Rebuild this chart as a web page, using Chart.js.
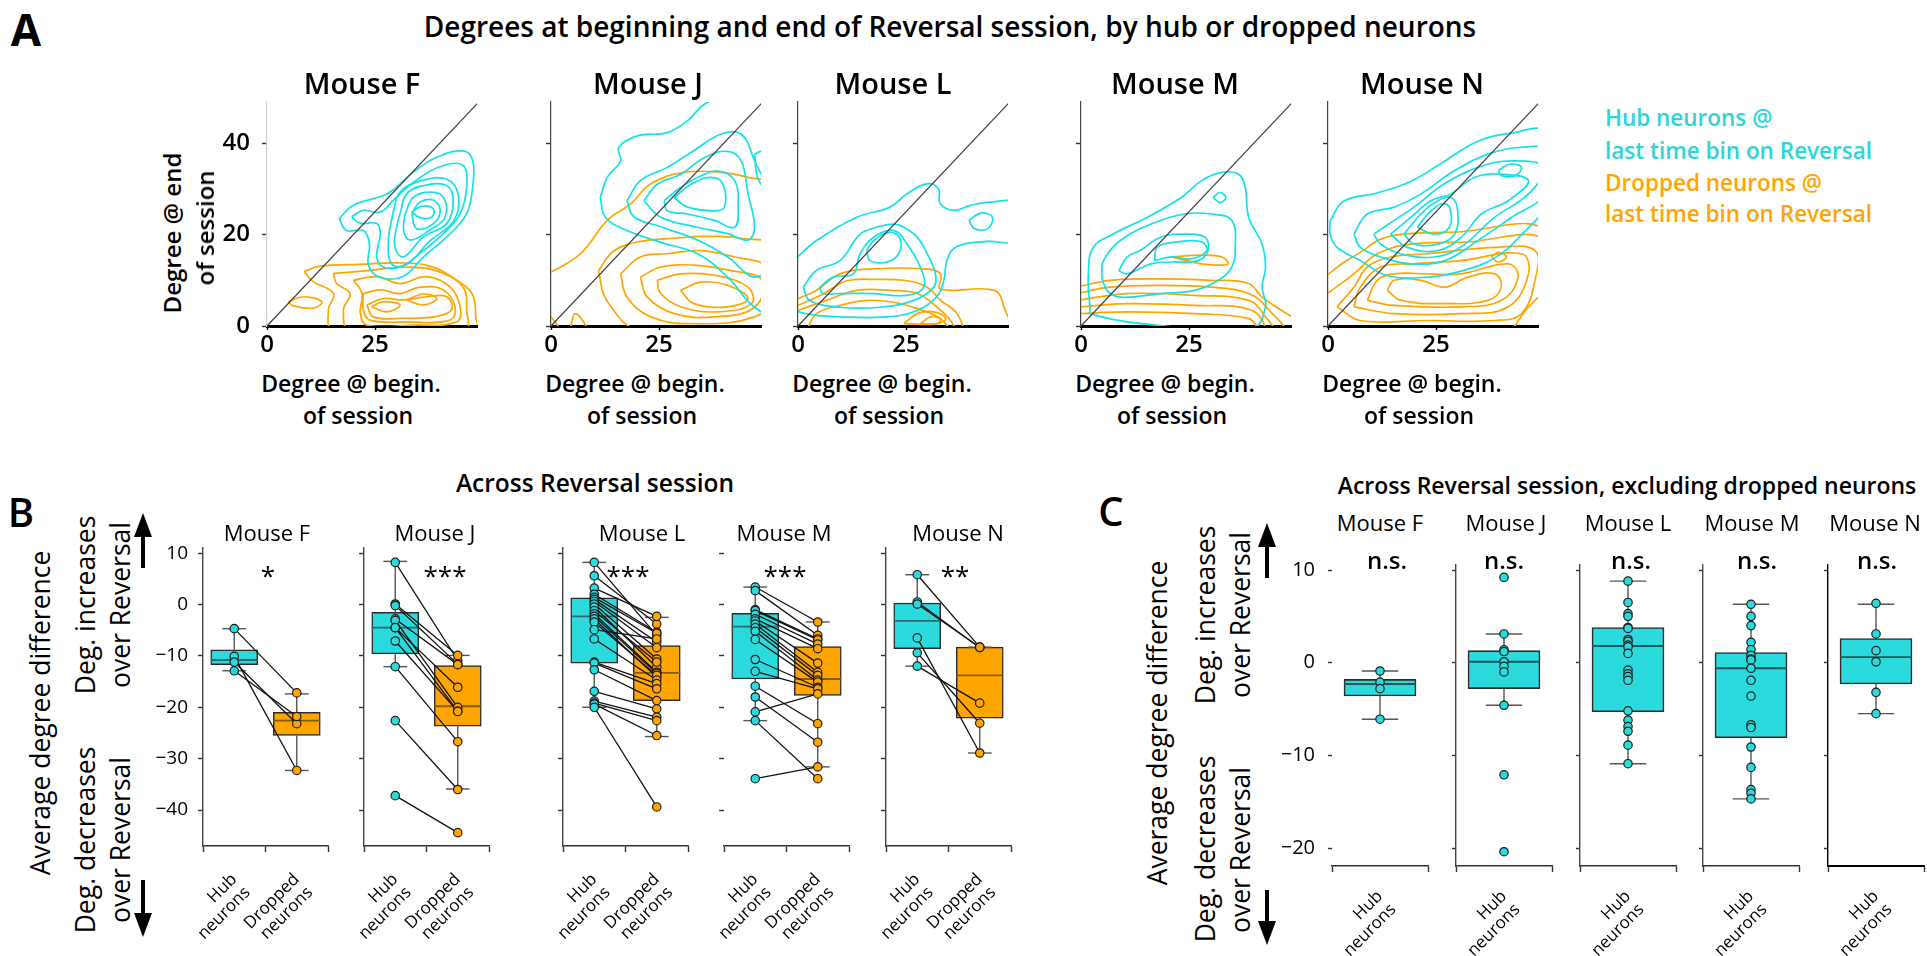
<!DOCTYPE html>
<html>
<head>
<meta charset="utf-8">
<title>Degrees of hub and dropped neurons</title>
<script src="https://cdn.jsdelivr.net/npm/chart.js@4.4.1/dist/chart.umd.min.js"></script>
<style>
  html, body { margin: 0; padding: 0; background: #fff; }
  #fig { position: relative; width: 1927px; height: 956px; overflow: hidden; font-family: "Open Sans", sans-serif; color: #000; }
  #fig canvas { position: absolute; }
  .lbl { position: absolute; white-space: nowrap; line-height: 1; }
</style>
</head>
<body>
<div id="fig"></div>
<script>
// ---------- panel A: KDE contour rings, flat [x, y, x, y, ...] per ring ----------
const hubRingsF = [
  [16.7,23.5, 20.0,26.4, 28.1,29.1, 33.9,33.7, 39.3,36.9, 45.4,38.3, 47.6,36.2, 47.6,30.4, 46.2,24.6, 42.4,20.2, 36.2,15.1, 31.6,10.9, 26.2,10.6, 23.5,13.3, 23.7,18.0, 22.3,20.9, 18.4,20.9],
  [19.6,23.9, 22.3,25.3, 26.2,24.9, 29.2,27.5, 34.6,31.9, 40.8,35.1, 45.4,35.1, 46.2,30.4, 44.7,24.6, 40.8,20.2, 35.4,15.9, 30.8,12.9, 26.9,12.9, 25.4,15.1, 26.2,20.2, 25.4,22.4, 21.5,22.5],
  [29.2,24.9, 30.7,29.2, 35.4,31.7, 41.6,32.1, 44.3,28.5, 43.2,23.0, 37.7,18.6, 32.4,13.5, 28.9,13.5, 28.1,18.6],
  [30.8,24.6, 32.3,28.9, 36.2,30.7, 41.6,30.7, 43.1,27.5, 41.6,22.4, 36.2,19.5, 31.6,15.1, 29.6,17.3, 30.0,21.7],
  [32.0,24.6, 33.9,28.2, 37.7,29.3, 40.8,28.2, 41.2,23.8, 37.7,21.0, 33.1,18.8, 31.6,21.0],
  [33.5,24.6, 35.4,27.1, 38.5,27.5, 40.1,25.3, 38.5,22.4, 34.6,21.3],
  [33.5,24.9, 35.8,26.2, 38.5,25.6, 38.1,23.8, 35.4,23.7]
];
const dropRingsF = [
  [8.6,11.9, 12.3,13.1, 21.5,13.5, 30.8,13.8, 37.7,13.1, 43.9,10.0, 47.6,6.8, 48.3,2.0, 48.3,-1, 15.4,-1, 14.2,3.5, 15.4,7.1, 10.7,9.7],
  [4.9,5.3, 8.4,6.4, 12.7,5.3, 10.7,3.9, 6.1,4.4],
  [15.4,11.5, 23.1,12.1, 33.1,12.9, 40.0,11.8, 45.4,8.5, 46.2,3.5, 45.8,-1, 19.2,-1, 17.7,3.5, 19.2,7.1, 16.1,9.3],
  [20.0,10.0, 25.4,10.8, 30.8,9.3, 36.9,10.8, 42.4,8.5, 44.7,4.2, 43.9,0.9, 33.9,0.2, 23.1,0.2, 21.6,2.8, 22.0,7.1],
  [22.3,7.1, 26.2,7.9, 30.8,7.1, 35.4,8.5, 40.8,7.9, 43.5,4.2, 42.4,1.3, 33.1,0.9, 23.8,1.3, 22.3,3.5],
  [23.1,4.6, 26.9,6.0, 31.6,5.7, 36.9,6.4, 41.6,6.4, 42.7,3.5, 38.5,2.0, 31.6,1.7, 24.6,2.0],
  [24.2,4.2, 26.9,5.3, 30.8,4.6, 27.7,3.1],
  [32.3,5.7, 36.2,7.0, 39.3,6.0, 36.2,4.6]
];
const hubRingsJ = [
  [11.4,28.1, 13.0,32.5, 16.1,36.1, 15.7,39.1, 20.0,41.6, 26.9,42.3, 31.6,44.9, 35.5,48.5, 40.9,50.5, 52,50.5, 52,2.7, 47.1,4.1, 40.9,10.7, 33.9,15.8, 25.4,18.3, 17.6,20.9, 12.6,23.8],
  [17.6,27.4, 20.7,31.8, 26.9,34.7, 33.1,38.4, 39.4,42.0, 44.0,42.0, 47.1,36.2, 50.2,28.9, 51.0,14.3, 47.1,10.7, 40.9,15.1, 33.9,18.8, 25.4,21.7, 19.2,23.9],
  [21.5,27.4, 24.6,31.0, 30.0,33.2, 35.5,36.8, 40.9,38.2, 44.0,36.1, 45.6,28.9, 47.1,21.6, 45.6,18.8, 40.9,20.2, 33.9,21.6, 25.4,23.8],
  [26.2,27.4, 30.0,30.3, 33.9,32.5, 38.6,33.9, 42.5,31.8, 43.3,26.0, 42.5,21.6, 37.8,23.1, 31.6,24.5, 26.9,25.2],
  [28.5,28.1, 32.4,31.0, 37.0,32.5, 39.8,31.0, 40.1,25.9, 37.8,25.2, 31.6,26.0],
  [47.1,37.6, 51.8,39.1, 51.8,29.0, 48.1,31.8]
];
const dropRingsJ = [
  [-2,10.7, 6.8,15.8, 13.0,23.1, 18.4,26.7, 23.1,31.1, 30.8,33.6, 39.4,33.6, 45.6,32.5, 52,30.3, 52,-1, -2,-1],
  [11.0,12.1, 14.5,16.4, 20.7,18.5, 28.5,19.2, 36.3,19.6, 44.0,19.2, 52,17.0, 52,-1, 20.7,-1, 12.9,5.6],
  [16.1,11.4, 20.7,15.1, 26.9,15.8, 34.7,16.5, 42.5,15.1, 50.2,12.9, 51.8,7.1, 47.1,2.0, 32.4,0.5, 23.1,2.0, 17.6,6.3],
  [20.7,10.7, 25.4,12.9, 33.1,13.3, 41.7,12.1, 48.9,10.0, 47.1,4.1, 37.8,2.0, 28.5,2.7, 22.3,6.3],
  [24.6,10.0, 30.0,11.4, 37.8,11.1, 45.6,8.5, 46.4,4.9, 38.6,3.1, 30.0,4.2, 25.4,7.1],
  [30.0,7.8, 34.7,9.6, 40.9,8.9, 45.6,6.0, 40.9,4.2, 33.1,4.9],
  [4.4,-1, 5.6,2.7, 8.3,-1],
  [-2,4.2, 2.0,-1, -2,-1]
];
const hubRingsL = [
  [-1,14.3, 4.3,18.7, 13.6,23.8, 21.3,26.0, 25.2,28.9, 29.8,31.1, 32.5,30.0, 32.9,26.8, 36.0,25.3, 39.9,26.4, 44.5,27.1, 50,26.8, 50,18.8, 43.8,18.5, 36.8,17.4, 34.5,14.5, 33.8,10.2, 32.2,6.5, 27.6,3.4, 20.6,2.0, 9.7,2.0, 1.9,2.7, -1,4.2],
  [39.6,23.1, 42.3,24.7, 45.0,23.8, 43.9,21.3, 40.8,21.3],
  [1.2,8.5, 4.3,12.2, 9.7,14.3, 14.4,20.1, 18.2,21.6, 22.1,22.3, 24.5,21.6, 27.6,19.4, 29.9,15.8, 31.8,11.4, 31.4,8.5, 26.8,5.6, 19.0,4.1, 9.7,4.1, 2.7,5.6],
  [5.0,8.5, 8.2,10.7, 12.8,11.4, 14.4,15.8, 17.5,19.4, 22.1,20.9, 25.2,18.0, 28.3,12.9, 29.1,8.5, 25.2,6.7, 17.5,7.1, 9.7,7.1, 5.8,7.1],
  [15.9,16.5, 17.5,18.7, 21.3,20.5, 23.6,19.1, 23.3,15.8, 20.6,14.0, 16.7,14.3]
];
const dropRingsL = [
  [-1,5.6, 4.3,7.8, 9.7,11.4, 17.5,12.5, 29.1,12.5, 33.0,11.4, 33.0,8.1, 45.4,7.8, 47.7,4.1, 48.5,-1, -1,-1],
  [-1,4.1, 5.8,7.0, 11.3,9.9, 17.5,10.2, 25.2,9.9, 29.9,8.5, 33.0,5.6, 36.8,2.7, 37.5,-1, -1,-1],
  [-1,3.1, 6.6,5.6, 13.6,7.8, 21.3,7.8, 27.6,7.1, 32.2,4.1, 35.3,1.2, 36,-1, -1,-1],
  [2,-1, 4.3,2.7, 9.7,4.5, 15.9,5.6, 22.1,5.2, 27.6,3.8, 33.0,1.6, 34.5,-1],
  [24.5,0.5, 27.6,2.7, 31.4,3.1, 34.2,1.6, 32.2,0.5],
  [28.3,0.5, 30.7,2.0, 33.0,1.6, 32.2,0.5]
];
const hubRingsM = [
  [2.1,3.4, 1.7,11.4, 2.9,17.3, 7.6,20.2, 15.4,23.8, 23.2,28.1, 27.9,31.8, 32.6,33.6, 36.5,33.2, 38.0,30.3, 38.8,23.8, 41.9,17.9, 42.7,12.8, 41.9,8.5, 42.7,4.2, 39.6,-1, 31.8,-1, 10.7,0.9, 2.1,2.7],
  [30.6,28.1, 32.2,29.2, 33.5,28.1, 32.2,27.0],
  [4.8,10.7, 5.2,14.3, 9.1,18.7, 16.2,22.3, 24.0,24.5, 30.2,24.5, 34.9,23.1, 35.7,17.2, 34.9,12.9, 31.8,10.0, 26.3,7.8, 18.5,7.1, 9.1,6.3, 6.0,7.8],
  [8.75,12.1, 10.7,15.1, 13.7,16.5, 18.4,19.4, 23.9,20.1, 28.7,19.4, 29.4,16.5, 27.1,14.3, 20.9,14.0, 16.2,13.6, 10.7,11.4],
  [17.0,14.3, 17.7,17.3, 22.4,18.4, 27.9,18.4, 29.1,16.5, 25.5,14.7, 20.9,15.1]
];
const dropRingsM = [
  [-1,8.5, 6.8,10.0, 18.5,10.3, 30.2,10.0, 38.8,9.3, 41.9,6.3, 45.1,4.2, 50,1.0, 50,-1, -1,-1],
  [-1,7.1, 6.8,8.5, 18.5,8.9, 30.2,8.5, 38.8,7.1, 43.6,3.4, 46.6,-1, -1,-1],
  [-1,5.6, 10.7,7.1, 26.3,6.7, 38.8,5.6, 42.7,2.0, 44.3,-1, -1,-1],
  [-1,4.1, 10.7,4.9, 26.3,4.5, 39.6,3.4, 41.9,-1, -1,-1],
  [-1,2.7, 10.7,3.1, 26.3,2.7, 38.8,1.6, 40.4,-1, -1,-1],
  [20.9,15.1, 27.9,15.5, 32.6,15.1, 34.1,13.6, 32.6,13.3, 27.9,13.6]
];
const hubRingsN = [
  [0.5,23.0, 3.6,27.3, 11.4,29.1, 19.1,31.6, 26.9,36.0, 34.7,40.4, 42.4,42.2, 50,42.4, 50,26.5, 44.8,20.0, 38.6,14.9, 30.8,12.0, 23.1,10.7, 13.8,11.0, 7.5,14.3, 2.1,17.2, 0.5,20.1],
  [6.0,20.1, 9.1,24.5, 15.3,26.0, 21.5,28.9, 29.3,34.0, 37.0,37.6, 44.8,39.1, 50,38.4, 50,28.9, 42.5,23.8, 34.7,18.7, 27.0,14.3, 19.2,13.6, 12.2,15.1, 7.5,17.2],
  [10.6,20.1, 15.3,23.1, 19.9,26.0, 26.9,31.1, 34.7,34.7, 42.5,36.1, 50,34.7, 46.4,28.9, 38.6,23.8, 30.8,17.3, 24.6,15.1, 16.8,15.8, 12.2,17.9],
  [14.5,20.1, 19.2,23.8, 23.8,27.4, 28.5,28.9, 33.9,32.5, 40.1,33.2, 46.4,31.8, 41.7,27.4, 35.5,24.5, 30.8,19.4, 25.4,16.5, 18.4,17.2],
  [17.6,20.1, 21.5,24.5, 25.4,27.4, 28.5,28.1, 30.0,25.3, 29.3,20.1, 25.4,17.9, 20.0,17.9],
  [20.7,21.6, 23.1,24.5, 26.2,26.7, 28.1,26.0, 28.1,21.6, 24.6,20.1],
  [39.4,34.0, 42.1,35.4, 44.8,34.7, 43.3,32.9, 40.1,32.9]
];
const dropRingsN = [
  [-1,10.5, 3.6,13.9, 7.5,16.1, 12.2,19.0, 17.6,20.1, 28.5,20.5, 51,20.5, 51,-1, -1,-1],
  [-1,6.5, 6.0,11.4, 11.4,15.8, 19.2,17.9, 30.8,18.3, 51,18.3, 51,-1, -1,-1],
  [2.1,4.2, 6.0,8.5, 9.1,12.9, 14.5,15.1, 23.1,15.8, 38.6,17.2, 47.9,16.5, 47.9,10.0, 44.8,2.7, 38.6,1.2, 23.1,1.2, 7.5,1.2],
  [6.0,4.2, 7.5,8.5, 12.2,12.9, 19.9,13.6, 30.8,14.3, 44.8,15.8, 46.4,11.4, 41.7,4.2, 30.8,2.7, 15.3,2.7],
  [9.1,5.6, 11.4,10.0, 15.3,11.4, 23.1,11.4, 30.8,11.4, 41.7,13.6, 44.0,10.7, 40.1,5.6, 30.8,4.2, 15.3,4.5],
  [13.7,7.8, 15.3,10.0, 21.5,10.0, 27.0,8.5, 32.4,10.7, 38.6,11.4, 40.1,8.5, 37.0,5.6, 27.0,4.9, 16.9,5.6],
  [37.8,15.1, 39.4,16.1, 41.3,15.1, 39.4,14.0],
  [42.5,-1, 46.4,4.1, 51,7.5, 55,7, 55,-3]
];

// ---------- panel B: degree difference per neuron, hub -> dropped (paired by index) ----------
const hubDiffF = [-4.7, -10.1, -11.2, -12.9];
const dropDiffF = [-17.2, -32.3, -23.2, -21.8];
const hubDiffJ = [8.2, 0.1, -0.2, -2.8, -3.1, -4.5, -4.5, -7.1, -12.1, -22.6, -37.2];
const dropDiffJ = [-10.9, -9.9, -11.6, -11.7, -20.0, -16.1, -20.8, -20.8, -26.7, -36.0, -44.4];
const hubDiffL = [8.2, 5.6, 3.2, 2.0, 1.4, 1.0, 0.6, 0.1, -0.5, -1.2, -1.8, -2.3, -2.8, -3.4, -4.9, -6.7, -11.2, -11.4, -12.7, -16.9, -18.8, -19.2, -19.4, -20.0];
const dropDiffL = [-6.0, -3.8, -2.3, -5.4, -5.6, -7.3, -8.4, -10.6, -12.2, -11.2, -13.2, -13.4, -14.1, -13.8, -6.7, -14.7, -15.4, -16.4, -18.7, -20.3, -21.9, -22.6, -25.5, -39.4];
const hubDiffM = [3.4, 2.7, -1.0, -1.2, -1.9, -2.8, -3.2, -3.8, -4.5, -5.2, -6.8, -10.7, -13.0, -15.9, -18.0, -20.9, -22.6, -33.9];
const dropDiffM = [-3.4, -6.0, -6.7, -6.9, -7.7, -8.6, -11.4, -13.2, -13.8, -14.7, -15.1, -16.1, -16.4, -23.2, -26.8, -17.4, -33.9, -31.6];
const hubDiffN = [5.8, 0.5, 0.1, -6.5, -9.4, -12.0];
const dropDiffN = [-8.3, -8.4, -8.3, -28.9, -23.1, -19.2];

// box stats: [lower whisker, q1, median, q3, upper whisker]
const hubBoxF = [-12.9, -11.7, -10.8, -8.8, -4.7];
const dropBoxF = [-32.3, -25.5, -22.6, -21.0, -17.4];
const hubBoxJ = [-12.1, -9.6, -4.5, -1.5, 8.4];
const dropBoxJ = [-35.9, -23.7, -19.8, -11.9, -9.9];
const hubBoxL = [-20.0, -11.4, -2.3, 1.3, 8.2];
const dropBoxL = [-25.7, -18.7, -13.3, -8.0, -2.5];
const hubBoxM = [-22.6, -14.5, -4.3, -1.7, 3.4];
const dropBoxM = [-31.6, -17.7, -14.5, -8.2, -3.4];
const hubBoxN = [-12.0, -8.6, -3.2, 0.3, 5.8];
const dropBoxN = [-28.9, -22.1, -13.8, -8.3, -8.3];

// ---------- panel C: hub neurons only, excluding dropped ----------
const keptDiffF = [-0.9, -2.1, -2.8, -6.1];
const keptDiffJ = [9.2, 3.1, 1.4, 1.2, 0.1, -0.4, -1.0, -4.6, -12.1, -20.4];
const keptDiffL = [8.8, 6.5, 5.3, 5.0, 3.8, 3.7, 2.5, 2.3, 1.9, 1.7, 1.0, -0.8, -1.2, -1.5, -1.9, -5.2, -6.2, -6.9, -7.4, -8.9, -10.9];
const keptDiffM = [6.3, 5.0, 4.0, 2.2, 1.4, 0.8, 0.4, 0.3, -0.6, -1.9, -3.6, -6.7, -7.0, -9.1, -11.3, -13.7, -14.1, -14.7];
const keptDiffN = [6.4, 3.1, 1.3, 0.1, -3.2, -5.5];
const keptBoxF = [-6.1, -3.6, -2.3, -1.8, -0.9];
const keptBoxJ = [-4.6, -2.8, 0.1, 1.3, 3.1];
const keptBoxL = [-10.9, -5.3, 1.8, 3.8, 8.8];
const keptBoxM = [-14.7, -8.1, -0.6, 1.1, 6.3];
const keptBoxN = [-5.5, -2.3, 0.6, 2.6, 6.3];

const mice = ["F", "J", "L", "M", "N"];
const sigB = { F: "*", J: "***", L: "***", M: "***", N: "**" };

const rings = { F: [hubRingsF, dropRingsF], J: [hubRingsJ, dropRingsJ], L: [hubRingsL, dropRingsL], M: [hubRingsM, dropRingsM], N: [hubRingsN, dropRingsN] };
const diffs = { F: [hubDiffF, dropDiffF], J: [hubDiffJ, dropDiffJ], L: [hubDiffL, dropDiffL], M: [hubDiffM, dropDiffM], N: [hubDiffN, dropDiffN] };
const boxes = { F: [hubBoxF, dropBoxF], J: [hubBoxJ, dropBoxJ], L: [hubBoxL, dropBoxL], M: [hubBoxM, dropBoxM], N: [hubBoxN, dropBoxN] };
const kept = { F: [keptDiffF, keptBoxF], J: [keptDiffJ, keptBoxJ], L: [keptDiffL, keptBoxL], M: [keptDiffM, keptBoxM], N: [keptDiffN, keptBoxN] };

const FONT = "'Open Sans', sans-serif";
const CYAN_LINE = "#12E2E8";
const CYAN = "#2ADADC";
const ORANGE = "#FFA500";
const fig = document.getElementById("fig");
Chart.defaults.font.family = FONT;

function addCanvas(left, top, w, h) {
  const c = document.createElement("canvas");
  c.width = w; c.height = h;
  c.style.left = left + "px"; c.style.top = top + "px";
  c.style.width = w + "px"; c.style.height = h + "px";
  fig.appendChild(c);
  return c;
}

function text(str, x, y, size, opts = {}) {
  const d = document.createElement("div");
  d.className = "lbl";
  d.textContent = str;
  d.style.left = x + "px";
  d.style.top = y + "px";
  d.style.fontSize = size + "px";
  d.style.fontWeight = opts.weight || 400;
  if (opts.color) d.style.color = opts.color;
  const tx = opts.anchor === "left" ? "0" : "-50%";
  d.style.transform = "translate(" + tx + ", -50%)" + (opts.rot ? " rotate(-90deg)" : "");
  fig.appendChild(d);
}

function arrow(x, y0, y1, up) {
  const head = 24, hw = 9;
  const s = document.createElement("div");
  s.style.cssText = "position:absolute;width:4px;background:#000;left:" + (x - 2) + "px;top:" +
    (up ? y0 + head - 2 : y0) + "px;height:" + (y1 - y0 - head + 2) + "px";
  const h = document.createElement("div");
  h.style.cssText = "position:absolute;width:0;height:0;left:" + (x - hw) + "px;border-left:" + hw +
    "px solid transparent;border-right:" + hw + "px solid transparent;" +
    (up ? "top:" + y0 + "px;border-bottom:" + head + "px solid #000" : "top:" + (y1 - head) + "px;border-top:" + head + "px solid #000");
  fig.append(s, h);
}

const fmt = v => (v < 0 ? "\u2212" + (-v) : String(v));

function seg(points, color, width, order) {
  return { type: "scatter", data: points, showLine: true, borderColor: color, borderWidth: width, pointRadius: 0, order: order };
}

function ring(r) {
  const p = [];
  for (let i = 0; i < r.length; i += 2) p.push({ x: r[i], y: r[i + 1] });
  p.push({ x: r[0], y: r[1] });
  return p;
}

// fixed-size axes so every chart area lands on the same pixels as the figure
function axis(o) {
  return {
    type: "linear", min: o.min, max: o.max, offset: false,
    afterBuildTicks: s => { s.ticks = o.ticks.map(v => ({ value: v })); },
    afterFit: s => {
      if (s.isHorizontal()) s.height = o.size; else s.width = o.size;
      s.paddingTop = 0; s.paddingBottom = 0; s.paddingLeft = 0; s.paddingRight = 0;
    },
    grid: { display: true, drawOnChartArea: false, drawTicks: true, tickLength: o.tickLength, tickColor: o.tickColor || "#333", tickWidth: 1.4 },
    border: { display: o.border !== false, color: o.borderColor || "#333", width: o.borderWidth || 1.4 },
    ticks: { display: true, autoSkip: false, color: "#000", padding: o.padding, maxRotation: o.rot || 0, minRotation: o.rot || 0,
      font: { family: FONT, size: o.fontSize, weight: o.weight || "400", lineHeight: 1.1 }, callback: o.label }
  };
}

function options(xs, ys, padRight) {
  return {
    responsive: false, animation: false, events: [], devicePixelRatio: 1,
    layout: { autoPadding: false, padding: { top: 10, right: padRight, left: 0, bottom: 0 } },
    plugins: { legend: { display: false }, tooltip: { enabled: false }, title: { display: false } },
    elements: { line: { capBezierPoints: false } },
    scales: { x: xs, y: ys }
  };
}

function boxParts(stats, x, halfBox, halfCap, medColor) {
  const [lo, q1, med, q3, hi] = stats;
  const wc = "#555";
  return [
    seg([{ x: x, y: q3 }, { x: x, y: hi }], wc, 1.4, 5),
    seg([{ x: x, y: q1 }, { x: x, y: lo }], wc, 1.4, 5),
    seg([{ x: x - halfCap, y: hi }, { x: x + halfCap, y: hi }], wc, 1.4, 5),
    seg([{ x: x - halfCap, y: lo }, { x: x + halfCap, y: lo }], wc, 1.4, 5),
    seg([{ x: x - halfBox, y: med }, { x: x + halfBox, y: med }], medColor, 1.8, 4)
  ];
}

function dots(points, color) {
  return { type: "scatter", data: points, pointRadius: 4.2, pointBackgroundColor: color, pointBorderColor: "#1c1c1c", pointBorderWidth: 1.2, order: 0 };
}

// ---------- panel A ----------
const plotA = { F: 267, J: 551, L: 798, M: 1081, N: 1328 };
mice.forEach(m => {
  const left = plotA[m];
  const cv = addCanvas(left - 50, 92, 270, 274);
  const ds = [Object.assign(seg([{ x: 0, y: 0 }, { x: 60, y: 60 }], "#444", 1.3, 0), { clip: 0 })];
  rings[m][0].forEach(r => ds.push(Object.assign(seg(ring(r), CYAN_LINE, 1.7, 1), { tension: 0.4, clip: 0 })));
  rings[m][1].forEach(r => ds.push(Object.assign(seg(ring(r), ORANGE, 1.7, 2), { tension: 0.4, clip: 0 })));
  const xs = axis({ min: 0, max: 48.6, ticks: [0, 25], size: 40, tickLength: 4, padding: 2, fontSize: 24, weight: "600",
    borderColor: "#000", borderWidth: 3, tickColor: "#000", label: v => String(v) });
  const ys = axis({ min: 0, max: 49, ticks: [0, 20, 40], size: 50, tickLength: 5, padding: 12, fontSize: 24, weight: "600",
    borderColor: m === "F" ? "#cfcfcf" : "#444", borderWidth: 1.2, label: v => (m === "F" ? String(v) : "") });
  new Chart(cv, { type: "scatter", data: { datasets: ds }, options: options(xs, ys, 10) });
});

// ---------- panel B ----------
const axisB = { F: 203, J: 364, L: 563, M: 724, N: 886 };
mice.forEach(m => {
  const left = axisB[m];
  const cv = addCanvas(left - 50, 538, 183, 418);
  const [hub, drop] = diffs[m];
  const [hb, db] = boxes[m];
  const ds = [{ type: "bar", data: [{ x: 0, y: [hb[1], hb[3]] }, { x: 1, y: [db[1], db[3]] }],
    backgroundColor: [CYAN, ORANGE], borderColor: "#2b2b2b", borderWidth: 1.5, borderSkipped: false, barThickness: 47, order: 6 }];
  boxParts(hb, 0, 0.376, 0.19, "#2c6a6c").forEach(d => ds.push(d));
  boxParts(db, 1, 0.376, 0.19, "#8a5a00").forEach(d => ds.push(d));
  hub.forEach((h, k) => ds.push(seg([{ x: 0, y: h }, { x: 1, y: drop[k] }], "#111", 1.3, 2)));
  ds.push(dots(hub.map(v => ({ x: 0, y: v })), CYAN));
  ds.push(dots(drop.map(v => ({ x: 1, y: v })), ORANGE));
  const xs = axis({ min: -0.5, max: 1.5, ticks: [0, 1], size: 110, tickLength: 6, padding: 18, fontSize: 17, rot: 45,
    borderWidth: 1.5, label: v => (v === 0 ? ["Hub", "neurons"] : ["Dropped", "neurons"]) });
  const ys = axis({ min: -47, max: 11, ticks: [10, 0, -10, -20, -30, -40], size: 50, tickLength: 5, padding: 10, fontSize: 19,
    border: m !== "M", borderColor: "#444", label: v => (m === "F" ? fmt(v) : "") });
  new Chart(cv, { type: "scatter", data: { datasets: ds }, options: options(xs, ys, 8) });
});

// ---------- panel C ----------
const axisC = { F: 1332, J: 1456, L: 1580, M: 1703, N: 1828 };
mice.forEach(m => {
  const left = axisC[m];
  const cv = addCanvas(left - 50, 555, 149, 401);
  const [vals, kb] = kept[m];
  const ds = [{ type: "bar", data: [{ x: 0, y: [kb[1], kb[3]] }], backgroundColor: CYAN, borderColor: "#2b2b2b",
    borderWidth: 1.6, borderSkipped: false, barThickness: 72, order: 6 }];
  boxParts(kb, 0, 0.375, 0.19, "#1f5557").forEach(d => ds.push(d));
  ds.push(dots(vals.map(v => ({ x: 0, y: v })), CYAN));
  const xs = axis({ min: -0.5, max: 0.5, ticks: [0], size: 90, tickLength: 6, padding: 15, fontSize: 17, rot: 45,
    borderWidth: m === "N" ? 2 : 1.5, borderColor: m === "N" ? "#000" : "#333", label: () => ["Hub", "neurons"] });
  const ys = axis({ min: -21.94, max: 10.54, ticks: [10, 0, -10, -20], size: 50, tickLength: 4, padding: 13, fontSize: 20,
    border: m !== "F", borderColor: m === "N" ? "#000" : "#444", label: v => (m === "F" ? fmt(v) : "") });
  new Chart(cv, { type: "scatter", data: { datasets: ds }, options: options(xs, ys, 3) });
});

// ---------- text ----------
text("A", 26, 29, 44, { weight: 700 });
text("Degrees at beginning and end of Reversal session, by hub or dropped neurons", 950, 26, 28, { weight: 600 });
const titleA = { F: 362, J: 648, L: 893, M: 1175, N: 1422 };
mice.forEach(m => {
  text("Mouse " + m, titleA[m], 82, 29, { weight: 600 });
  const c = plotA[m] + 105 - 21;
  text("Degree @ begin.", c, 383, 23, { weight: 600 });
  text("of session", c + 7, 415, 23, { weight: 600 });
});
text("Degree @ end", 172, 233, 24, { weight: 600, rot: true });
text("of session", 205, 228, 24, { weight: 600, rot: true });
text("Hub neurons @", 1605, 118, 22.5, { weight: 600, color: "#2CD5DA", anchor: "left" });
text("last time bin on Reversal", 1605, 151, 22.5, { weight: 600, color: "#2CD5DA", anchor: "left" });
text("Dropped neurons @", 1605, 183, 22.5, { weight: 600, color: ORANGE, anchor: "left" });
text("last time bin on Reversal", 1605, 214, 22.5, { weight: 600, color: ORANGE, anchor: "left" });

text("B", 21, 512, 40, { weight: 600 });
text("Across Reversal session", 595, 483, 24.5, { weight: 600 });
const titleB = { F: 267, J: 435, L: 642, M: 784, N: 958 };
const starB = { F: 268, J: 445, L: 628, M: 785, N: 955 };
mice.forEach(m => {
  text("Mouse " + m, titleB[m], 532, 22);
  text(sigB[m], starB[m], 575, 26);
});
text("Average degree difference", 40, 713, 26.5, { rot: true });
text("Deg. increases", 85, 605, 26.5, { rot: true });
text("over Reversal", 120, 605, 26.5, { rot: true });
text("Deg. decreases", 85, 840, 26.5, { rot: true });
text("over Reversal", 120, 840, 26.5, { rot: true });
arrow(143, 513, 568, true);
arrow(143, 880, 937, false);

text("C", 1111, 511, 40, { weight: 600 });
text("Across Reversal session, excluding dropped neurons", 1627, 485, 23, { weight: 600 });
const titleC = { F: 1380, J: 1506, L: 1628, M: 1752, N: 1875 };
const nsC = { F: 1387, J: 1504, L: 1631, M: 1757, N: 1877 };
mice.forEach(m => {
  text("Mouse " + m, titleC[m], 522, 22);
  text("n.s.", nsC[m], 560, 24, { weight: 600 });
});
text("Average degree difference", 1157, 723, 26.5, { rot: true });
text("Deg. increases", 1205, 615, 26.5, { rot: true });
text("over Reversal", 1240, 615, 26.5, { rot: true });
text("Deg. decreases", 1205, 849, 26.5, { rot: true });
text("over Reversal", 1240, 850, 26.5, { rot: true });
arrow(1267, 523, 578, true);
arrow(1267, 890, 945, false);
</script>
</body>
</html>
